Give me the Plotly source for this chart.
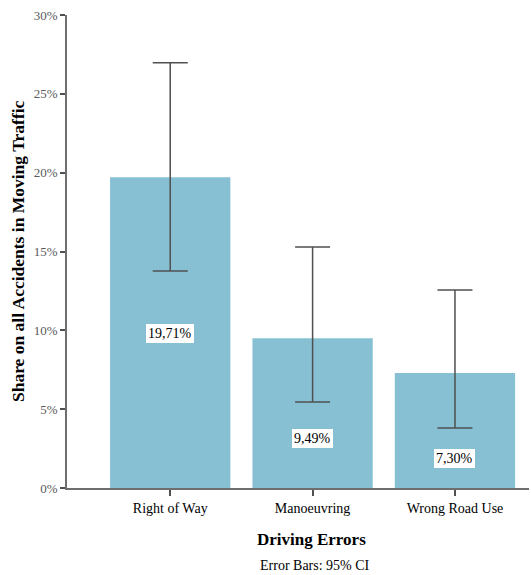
import plotly.graph_objects as go

categories = ["Right of Way", "Manoeuvring", "Wrong Road Use"]
shares = [19.71, 9.49, 7.30]
ci_upper = [26.97, 15.29, 12.56]
ci_lower = [13.77, 5.46, 3.81]
label_y = [9.77, 3.17, 1.90]
y_ticks = [0, 5, 10, 15, 20, 25, 30]

err_plus = [u - v for u, v in zip(ci_upper, shares)]
err_minus = [v - l for v, l in zip(shares, ci_lower)]

serif = "Liberation Serif, Times New Roman, serif"

fig = go.Figure()
fig.add_trace(go.Bar(
    x=list(range(len(categories))),
    y=shares,
    width=0.845,
    marker=dict(color="rgb(135,192,211)", line=dict(width=0)),
    error_y=dict(type="data", symmetric=False, array=err_plus, arrayminus=err_minus,
                 color="rgb(80,80,80)", thickness=1.5, width=17.5),
    hoverinfo="skip",
))

for i, (v, ly) in enumerate(zip(shares, label_y)):
    fig.add_annotation(
        x=i, y=ly, text=f"{v:.2f}%".replace(".", ","), showarrow=False,
        font=dict(family=serif, size=14, color="black"),
        bgcolor="white", borderpad=2, borderwidth=0,
    )

fig.add_annotation(x=0.530, xref="paper", y=-0.108, yref="paper", yanchor="middle",
                   text="<b>Driving Errors</b>", showarrow=False,
                   font=dict(family=serif, size=17, color="black"))
fig.add_annotation(x=0.537, xref="paper", y=-0.163, yref="paper", yanchor="middle",
                   text="Error Bars: 95% CI", showarrow=False,
                   font=dict(family=serif, size=14, color="black"))
fig.add_annotation(x=-0.106, xref="paper", y=0.501, yref="paper", xanchor="center",
                   yanchor="middle", textangle=-90,
                   text="<b>Share on all Accidents in Moving Traffic</b>", showarrow=False,
                   font=dict(family=serif, size=17.5, color="black"))

fig.update_layout(
    width=531, height=575,
    margin=dict(l=67, r=2, t=15, b=87),
    plot_bgcolor="white", paper_bgcolor="white",
    showlegend=False,
    xaxis=dict(
        range=[-0.725, 2.52], automargin=False,
        tickvals=list(range(len(categories))), ticktext=categories,
        showline=True, linecolor="rgb(110,110,110)", linewidth=1.5,
        ticks="outside", ticklen=6, tickcolor="rgb(80,80,80)", tickwidth=1.5,
        showgrid=False, zeroline=False,
        tickfont=dict(family=serif, size=14, color="black"),
    ),
    yaxis=dict(
        range=[0, 30], automargin=False,
        tickvals=y_ticks, ticktext=[f"{t}%" for t in y_ticks],
        showline=True, linecolor="rgb(110,110,110)", linewidth=1.5,
        ticks="outside", ticklen=5, tickcolor="rgb(80,80,80)", tickwidth=1.5,
        showgrid=False, zeroline=False,
        tickfont=dict(family=serif, size=13, color="rgb(90,90,90)"),
    ),
)

fig.write_html("out.html", config={"displayModeBar": False},
               post_script="document.body.style.margin='0';document.body.style.overflow='hidden';")
